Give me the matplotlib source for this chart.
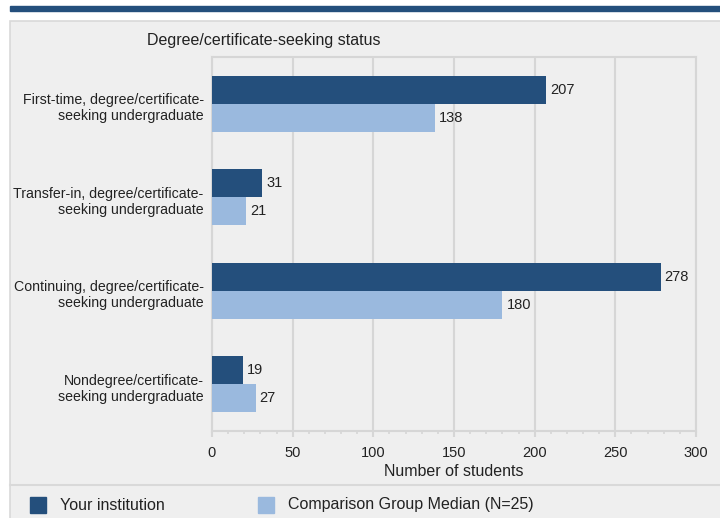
"""
Degree/certificate-seeking status bar chart.
"""
import matplotlib.pyplot as plt
from matplotlib.patches import Rectangle
from matplotlib.ticker import MultipleLocator

plt.rcParams['font.family'] = ['Liberation Sans', 'DejaVu Sans']

categories = ['First-time, degree/certificate-\nseeking undergraduate',
              'Transfer-in, degree/certificate-\nseeking undergraduate',
              'Continuing, degree/certificate-\nseeking undergraduate',
              'Nondegree/certificate-\nseeking undergraduate']
institution = [207, 31, 278, 19]
median = [138, 21, 180, 27]
series_names = ['Your institution', 'Comparison Group Median (N=25)']

dark = '#244f7c'
light = '#9ab9de'
grid_c = '#d6d6d6'
txt = '#222222'
fs = 11.5
fs_num = 10.5
W, H = 720, 518

fig = plt.figure(figsize=(7.2, 5.18), dpi=100)

def px(x, y, w, h):
    # pixel box (top-left origin) -> figure fraction
    return [x / W, 1 - (y + h) / H, w / W, h / H]

# top band and grey panel
b = px(10, 6, 710, 5)
fig.patches.append(Rectangle(b[:2], b[2], b[3], transform=fig.transFigure,
                             color=dark, zorder=-2))
p = px(10, 21, 715, 500)
fig.patches.append(Rectangle(p[:2], p[2], p[3], transform=fig.transFigure,
                             facecolor='#efefef', edgecolor='#d9d9d9',
                             lw=1.2, zorder=-2))
fig.add_artist(plt.Line2D([10 / W, 1], [1 - 485 / H] * 2, color='#d9d9d9',
                          lw=1.5, transform=fig.transFigure, zorder=-1))

ax = fig.add_axes(px(212, 57, 484, 374))
ax.set_zorder(1)
ax.set_facecolor('#efefef')

ypos = list(range(len(categories)))
h = 0.30
ax.barh([y - h / 2 for y in ypos], institution, height=h, color=dark, zorder=3)
ax.barh([y + h / 2 for y in ypos], median, height=h, color=light, zorder=3)
for y, v in zip(ypos, institution):
    ax.text(v + 2.5, y - h / 2, str(v), va='center', ha='left', fontsize=fs_num,
            color=txt)
for y, v in zip(ypos, median):
    ax.text(v + 2.5, y + h / 2, str(v), va='center', ha='left', fontsize=fs_num,
            color=txt)

ax.set_xlim(0, 300)
ax.set_ylim(3.5, -0.5)
ax.set_yticks([y + 0.02 for y in ypos])
ax.set_yticklabels(categories, fontsize=10.2, color=txt, linespacing=1.2)
ax.tick_params(axis='y', length=0, pad=6)
ax.xaxis.set_major_locator(MultipleLocator(50))
ax.xaxis.set_minor_locator(MultipleLocator(10))
ax.tick_params(axis='x', which='major', length=4.5, width=1.5, color=grid_c,
               labelsize=fs_num, labelcolor=txt, pad=6.5)
ax.tick_params(axis='x', which='minor', length=2.3, width=1.2, color=grid_c)
ax.grid(axis='x', color=grid_c, lw=1.5, zorder=0)
for s in ax.spines.values():
    s.set_color(grid_c)
    s.set_linewidth(1.5)
ax.set_xlabel('Number of students', fontsize=fs, color=txt, labelpad=3)

fig.text(147 / W, 1 - 40 / H, 'Degree/certificate-seeking status',
         fontsize=fs, va='center', ha='left', color=txt)

# legend
for x0, name, c in [(30, series_names[0], dark), (258, series_names[1], light)]:
    r = px(x0, 497, 16, 16)
    fig.patches.append(Rectangle(r[:2], r[2], r[3], transform=fig.transFigure,
                                 color=c))
    fig.text((x0 + 30) / W, 1 - 505 / H, name, fontsize=fs, va='center',
             ha='left', color=txt)

fig.savefig('out.png', dpi=100)
